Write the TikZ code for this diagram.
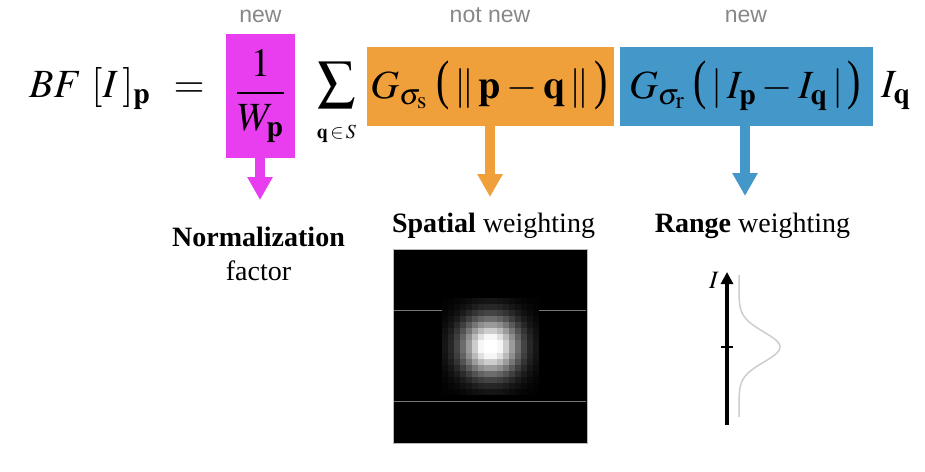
\documentclass[tikz,border=0pt]{standalone}
\usepackage{mathptmx}
\usepackage{fontspec}
\setmainfont{Liberation Serif}
\newfontfamily\labelsans{Liberation Sans}
\usetikzlibrary{arrows.meta}
\definecolor{magbox}{RGB}{233,62,240}
\definecolor{orabox}{RGB}{240,160,58}
\definecolor{blubox}{RGB}{68,152,201}
\definecolor{newgray}{RGB}{135,135,135}
\definecolor{imgline}{RGB}{120,120,120}
\definecolor{curvegray}{RGB}{205,205,205}
\newcommand\mylpar{\mathopen{\scalebox{1}[1.36]{(}}}
\newcommand\myrpar{\mathclose{\scalebox{1}[1.36]{)}}}
\begin{document}
\begin{tikzpicture}[x=1pt,y=-1pt,
  colbox/.style={fill=#1, draw=none, inner sep=0pt, outer sep=0pt},
  newtag/.style={font=\labelsans\fontsize{23}{26}\selectfont, text=newgray, inner sep=0pt, anchor=base},
  bigarrow/.style={draw=#1, line width=10pt, -{Triangle[width=24pt,length=23pt]}},
  eq/.style={font=\fontsize{40}{48}\selectfont, inner sep=0pt},
  captext/.style={font=\fontsize{28}{32}\selectfont, inner sep=0pt, anchor=base}]
\useasboundingbox (0,0) rectangle (925,471);

% formula
\node[eq, anchor=base west] (lhs) at (29,97) {$BF\ [I\,]_{\mathbf p}\ \,=$};

\node[colbox=magbox, eq, minimum width=69pt, minimum height=124pt] (mag) at (260.5,96) {$\displaystyle\frac{1}{W_{\mathbf p}}$};

\node[font=\fontsize{54}{58}\selectfont, inner sep=0pt] (sum) at (336.5,85) {$\textstyle\sum$};
\node[font=\fontsize{20}{24}\selectfont, inner sep=0pt] (sumsub) at (336.5,134) {$\mathbf q\!\in\! S$};

\node[colbox=orabox, minimum width=247pt, minimum height=79pt] (ora) at (490.5,86.5) {};
\node[eq, anchor=base] (spat) at (489,98) {$G_{\sigma_{\mathrm s}}\;\mylpar\,\|\,\mathbf p-\mathbf q\,\|\,\myrpar$};

\node[colbox=blubox, minimum width=253pt, minimum height=79pt] (blu) at (746.5,86.5) {};
\node[eq, anchor=base] (rng) at (745,98) {$G_{\sigma_{\mathrm r}}\;\mylpar\,|\,I_{\mathbf p}-I_{\mathbf q}\,|\,\myrpar$};

\node[eq, anchor=base west] (iq) at (881,97) {$I_{\mathbf q}$};

% tags
\node[newtag] (tagmag) at (260.5,22) {new};
\node[newtag] (tagora) at (490,22) {not new};
\node[newtag] (tagblu) at (746,22) {new};

% arrows
\coordinate (magtip) at (260,200);
\coordinate (oratip) at (490,197);
\coordinate (blutip) at (745,196);
\draw[bigarrow=magbox] (mag.south -| magtip) -- (magtip);
\draw[bigarrow=orabox] (ora.south -| oratip) -- (oratip);
\draw[bigarrow=blubox] (blu.south -| blutip) -- (blutip);

% captions
\node[captext] (norm) at (258.5,246) {\textbf{Normalization}};
\node[captext] (fac) at (258.5,280) {factor};
\node[captext] (spcap) at (493.5,232) {\textbf{Spatial} weighting};
\node[captext] (rgcap) at (752.5,232) {\textbf{Range} weighting};

% spatial gaussian image
\node[fill=black, draw=gray!55, line width=1pt, minimum size=194pt, inner sep=0pt] (gimg) at (490,346) {};
\draw[imgline, line width=1pt] (394,310) -- (586,310);
\draw[imgline, line width=1pt] (394,401) -- (586,401);
\foreach \i in {0,...,15}{
  \foreach \j in {0,...,15}{
    \pgfmathsetmacro\dx{(\i-7.5)*6.06}
    \pgfmathsetmacro\dy{(\j-7.5)*6.06}
    \pgfmathsetmacro\v{min(100,108*exp(-(\dx*\dx+\dy*\dy)/800))}
    \fill[white!\v!black] (442+\i*6.06,298+\j*6.06) rectangle ++(6.12,6.12);
  }
}

% range weighting plot
\coordinate (axbot) at (727,425);
\coordinate (axtop) at (727,272);
\draw[line width=3.5pt, -{Triangle[width=12pt,length=12pt]}] (axbot) -- (axtop);
\draw[line width=2pt] (721,347) -- (733,347);
\node[font=\fontsize{25}{28}\selectfont, inner sep=0pt] (ilab) at (714,280) {$I$};
\draw[curvegray, line width=1.5pt] plot[domain=275:417, samples=100] ({739+41*exp(-((\x-347)^2)/450)}, \x);
\end{tikzpicture}
\end{document}
